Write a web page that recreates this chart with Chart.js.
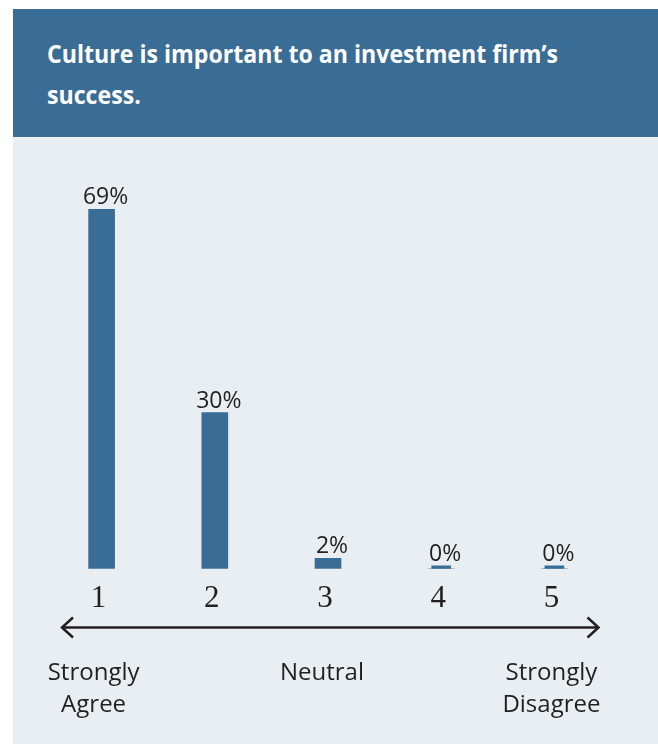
<!DOCTYPE html>
<html>
<head>
<meta charset="utf-8">
<script src="https://cdn.jsdelivr.net/npm/chart.js@4.4.1/dist/chart.umd.min.js"></script>
<style>
  html, body { margin: 0; padding: 0; background: #fff; }
  #page { position: relative; width: 658px; height: 744px; overflow: hidden; }
  #header { position: absolute; left: 13px; top: 9px; width: 645px; height: 128px; background: #3a6d95; }
  #panel { position: absolute; left: 13px; top: 137px; width: 645px; height: 607px; background: #e9eef3; }
  .title-line {
    position: absolute; left: 47px; white-space: nowrap; color: #fff;
    font: 700 25px "Open Sans", sans-serif; transform-origin: 0 0;
  }
  #chart { position: absolute; left: 0; top: 0; }
</style>
</head>
<body>
<div id="page">
  <div id="header"></div>
  <div id="panel"></div>
  <div class="title-line" id="t1" style="top:36px">Culture is important to an investment firm’s</div>
  <div class="title-line" id="t2" style="top:77px">success.</div>
  <canvas id="chart" width="658" height="744"></canvas>
</div>
<script>
const CATEGORIES = ["1", "2", "3", "4", "5"];
const SHARES = [69, 30, 2, 0, 0];
const SCALE_ENDS = ["Strongly\nAgree", "Neutral", "Strongly\nDisagree"];
const SCALE_END_AT = [0, 2, 4];

const BAR = "#3a6d95";
const INK = "#231f20";

// squeeze the bold title to a narrow face width
const TITLE_WIDTH = 511;
const t1 = document.getElementById("t1");
const squeeze = TITLE_WIDTH / t1.getBoundingClientRect().width;
document.querySelectorAll(".title-line").forEach(el => {
  el.style.transform = `scaleX(${squeeze})`;
});

const zeroMarks = SHARES.map(v => (v === 0 ? 0 : null));

// percent labels above each bar
const valueLabels = {
  id: "valueLabels",
  afterDatasetsDraw(chart) {
    const ctx = chart.ctx;
    const bars = chart.getDatasetMeta(0).data;
    const marks = chart.getDatasetMeta(1).data;
    ctx.save();
    ctx.fillStyle = INK;
    ctx.font = '23px "Open Sans"';
    ctx.textAlign = "center";
    ctx.textBaseline = "alphabetic";
    SHARES.forEach((v, i) => {
      const el = v === 0 ? marks[i] : bars[i];
      ctx.fillText(v + "%", el.x + 4, el.y - 5);
    });
    ctx.restore();
  }
};

// double-headed arrow and the scale anchors under the numbers
const agreeScale = {
  id: "agreeScale",
  afterDraw(chart) {
    const ctx = chart.ctx;
    const area = chart.chartArea;
    const x = chart.scales.x;
    const y = 627.5;
    const x0 = area.left + 16;
    const x1 = area.right - 11.5;
    const nudge = [-8, -6, -3];

    ctx.save();
    ctx.strokeStyle = INK;
    ctx.lineWidth = 2.5;
    ctx.beginPath();
    ctx.moveTo(x0 + 1, y);
    ctx.lineTo(x1 - 1, y);
    ctx.stroke();

    ctx.lineJoin = "miter";
    ctx.beginPath();
    ctx.moveTo(x0 + 12, y - 10);
    ctx.lineTo(x0 + 1, y);
    ctx.lineTo(x0 + 12, y + 10);
    ctx.moveTo(x1 - 12, y - 10);
    ctx.lineTo(x1 - 1, y);
    ctx.lineTo(x1 - 12, y + 10);
    ctx.stroke();

    ctx.fillStyle = INK;
    ctx.font = '24px "Open Sans"';
    ctx.textAlign = "center";
    ctx.textBaseline = "alphabetic";
    SCALE_ENDS.forEach((txt, i) => {
      const cx = x.getPixelForValue(SCALE_END_AT[i]) + nudge[i];
      txt.split("\n").forEach((line, j) => {
        ctx.fillText(line, cx, 679.5 + j * 32.4);
      });
    });
    ctx.restore();
  }
};

new Chart(document.getElementById("chart"), {
  type: "bar",
  data: {
    labels: CATEGORIES,
    datasets: [
      {
        data: SHARES,
        backgroundColor: BAR,
        barThickness: 26,
        grouped: false
      },
      {
        data: zeroMarks,
        backgroundColor: BAR,
        barThickness: 19,
        minBarLength: 3,
        grouped: false
      }
    ]
  },
  options: {
    responsive: false,
    animation: false,
    devicePixelRatio: 1,
    layout: { padding: { left: 45, right: 47, top: 152, bottom: 116 } },
    plugins: {
      legend: { display: false },
      tooltip: { enabled: false },
      title: { display: false }
    },
    scales: {
      x: {
        offset: true,
        grid: { display: false, drawTicks: false },
        border: { display: false },
        ticks: {
          color: INK,
          padding: 11,
          labelOffset: -3,
          font: { family: '"Liberation Serif", "Times New Roman", serif', size: 31 }
        }
      },
      y: {
        display: false,
        min: 0,
        max: 80
      }
    }
  },
  plugins: [valueLabels, agreeScale]
});
</script>
</body>
</html>
